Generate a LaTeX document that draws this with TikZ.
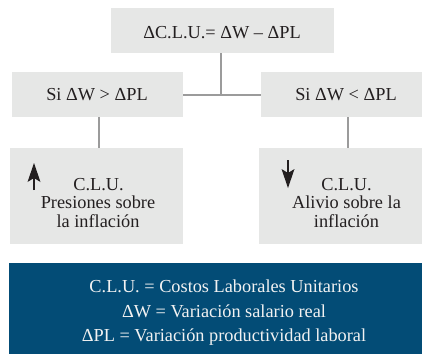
\documentclass[tikz,border=0pt]{standalone}
\usepackage{fontspec}
\setmainfont{Liberation Serif}
\definecolor{boxgray}{HTML}{E6E7E6}
\definecolor{linegray}{HTML}{9B9B9B}
\definecolor{txtdark}{HTML}{231F20}
\definecolor{navy}{HTML}{034C76}
\definecolor{lighttxt}{HTML}{F2F2F2}
\tikzset{
  graybox/.style={fill=boxgray, draw=none, inner sep=0pt, outer sep=0pt},
  navybox/.style={fill=navy, draw=none, inner sep=0pt, outer sep=0pt},
  conn/.style={draw=linegray, line width=2pt},
  txt/.style={font=\fontsize{18.3}{20}\selectfont, text=txtdark, inner sep=0pt, anchor=base},
  ltxt/.style={font=\fontsize{18.3}{20}\selectfont, text=lighttxt, inner sep=0pt, anchor=base},
  shaft/.style={draw=txtdark, line width=2.2pt},
  arrowhead/.style={fill=txtdark, draw=none}
}
\begin{document}
\begin{tikzpicture}[x=1pt,y=-1pt]
\useasboundingbox (0,0) rectangle (422,353);
\clip (0,0) rectangle (422,353);
% boxes
\node[graybox, minimum width=223pt, minimum height=45pt] (top) at (222.5,30.5) {};
\node[graybox, minimum width=171pt, minimum height=45pt] (l2) at (97.5,94.5) {};
\node[graybox, minimum width=171pt, minimum height=45pt] (r2) at (346.5,94.5) {};
\node[graybox, minimum width=173pt, minimum height=96pt] (l3) at (96.5,196) {};
\node[graybox, minimum width=173pt, minimum height=96pt] (r3) at (345.5,196) {};
\node[navybox, minimum width=430pt, minimum height=92pt] (leg) at (224,309) {};
% connectors
\coordinate (j) at (220.5,94);
\draw[conn] (j |- top.south) -- (j);
\draw[conn] (l2.east) -- (r2.west);
\draw[conn] ([xshift=1.5pt]l2.south) -- ([xshift=1.5pt]l2.south |- l3.north);
\draw[conn] ([xshift=1.5pt]r2.south) -- ([xshift=1.5pt]r2.south |- r3.north);
% texts
\node[txt] (ttop) at (222,38) {ΔC.L.U.= ΔW – ΔPL};
\node[txt] (tl2) at (97,100) {Si ΔW > ΔPL};
\node[txt] (tr2) at (346,100) {Si ΔW < ΔPL};
\node[txt] (tl3a) at (98.5,190) {C.L.U.};
\node[txt] (tl3b) at (98,208.5) {Presiones sobre};
\node[txt] (tl3c) at (98,227.5) {la inflación};
\node[txt] (tr3a) at (346.5,190) {C.L.U.};
\node[txt] (tr3b) at (346.5,208.5) {Alivio sobre la};
\node[txt] (tr3c) at (346.5,227.5) {inflación};
\node[ltxt] (lg1) at (224,292) {C.L.U. = Costos Laborales Unitarios};
\node[ltxt] (lg2) at (224,317) {ΔW = Variación salario real};
\node[ltxt] (lg3) at (224,341) {ΔPL = Variación productividad laboral};
% up arrow
\draw[shaft] (34,190) -- (34,176);
\fill[arrowhead] (34,163) -- (40.5,182) -- (34,178) -- (27.5,182) -- cycle;
% down arrow
\draw[shaft] (288,160) -- (288,174);
\fill[arrowhead] (288,188) -- (294.5,169) -- (288,173) -- (281.5,169) -- cycle;
\end{tikzpicture}
\end{document}
